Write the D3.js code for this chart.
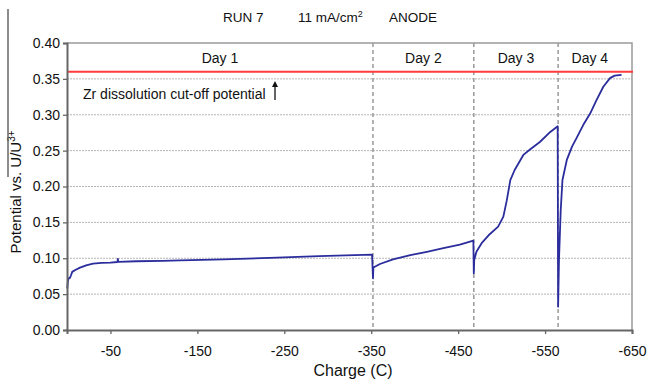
<!DOCTYPE html>
<html>
<head>
<meta charset="utf-8">
<script src="https://cdn.jsdelivr.net/npm/d3@7"></script>
<style>
  body { margin: 0; background: #fff; }
  svg { font-family: "Liberation Sans", Arial, sans-serif; }
</style>
</head>
<body>
<svg id="chart" width="649" height="382"></svg>
<script>
(function() {

  // data: charge (C) vs potential (V vs U/U3+)
  let run7 = [
    [-0.3, 0.058], [-1, 0.068], [-2, 0.072], [-3.5, 0.073], [-4.5, 0.076], [-6, 0.081],
    [-10, 0.084], [-15, 0.087], [-22, 0.090], [-30, 0.0925], [-40, 0.0935], [-50, 0.094],
    [-58, 0.0948], [-58.5, 0.099], [-59, 0.095], [-80, 0.0958], [-110, 0.0963], [-130, 0.097],
    [-180, 0.0985], [-233, 0.1005], [-290, 0.103], [-351, 0.105],
    [-352, 0.072], [-352.5, 0.087], [-360, 0.092], [-375, 0.0985], [-395, 0.1045],
    [-414, 0.109], [-433, 0.114], [-452, 0.119], [-467.5, 0.1245],
    [-468, 0.079], [-468.5, 0.0976], [-471, 0.109], [-477, 0.121], [-485, 0.132],
    [-496, 0.144], [-502, 0.158], [-506, 0.181], [-510, 0.209], [-515, 0.223],
    [-525, 0.244], [-533, 0.252], [-544, 0.262], [-556, 0.276], [-564.5, 0.284],
    [-565, 0.0325], [-566, 0.0976], [-568, 0.167], [-570, 0.209], [-575, 0.237],
    [-581, 0.2555], [-586, 0.267], [-594, 0.286], [-602, 0.302], [-609, 0.32],
    [-617, 0.339], [-624.7, 0.351], [-630, 0.3545], [-638, 0.3555]
  ];
  let dayNames = ["Day 1", "Day 2", "Day 3", "Day 4"];
  let dayBounds = [0, -352, -468, -565, -638];
  let cutoff = 0.36;
  let xTicks = [-50, -150, -250, -350, -450, -550, -650];
  let yTicks = [0, 0.05, 0.10, 0.15, 0.20, 0.25, 0.30, 0.35, 0.40];

  let svg = d3.select("#chart");
  let left = 67, right = 632, top = 43, bottom = 330;

  let xScale = d3.scaleLinear().domain([0, -650]).range([left, right]);
  let yScale = d3.scaleLinear().domain([0, 0.4]).range([bottom, top]);

  // title
  let title = svg.append("text")
     .attr("y", 22)
     .attr("font-size", "13.5px")
     .attr("fill", "#111");
  title.append("tspan").attr("x", 223).text("RUN 7");
  title.append("tspan").attr("x", 298).text("11 mA/cm");
  title.append("tspan").attr("font-size", "9px").attr("dy", -5).text("2");
  title.append("tspan").attr("x", 389).attr("dy", 5).text("ANODE");

  // horizontal dotted grid
  svg.append("g")
     .selectAll("line")
     .data(yTicks.filter(d => d > 0 && d < 0.4))
     .enter()
     .append("line")
     .attr("x1", left).attr("x2", right)
     .attr("y1", d => yScale(d)).attr("y2", d => yScale(d))
     .attr("stroke", "#b5b5b5")
     .attr("stroke-width", 1)
     .style("stroke-dasharray", "2, 1");

  // frame top/right
  svg.append("path")
     .attr("d", "M" + left + "," + top + "H" + right + "V" + bottom)
     .attr("fill", "none")
     .attr("stroke", "#9a9a9a")
     .attr("stroke-width", 1.5);

  // day separators
  svg.append("g")
     .selectAll("line")
     .data(dayBounds.slice(1, 4))
     .enter()
     .append("line")
     .attr("x1", d => xScale(d)).attr("x2", d => xScale(d))
     .attr("y1", top).attr("y2", bottom)
     .attr("stroke", "#9a9a9a")
     .attr("stroke-width", 1.5)
     .style("stroke-dasharray", "4, 3");

  // day labels
  svg.append("g")
     .selectAll("text")
     .data(dayNames)
     .enter()
     .append("text")
     .attr("x", (d, i) => xScale((dayBounds[i] + dayBounds[i + 1]) / 2))
     .attr("y", 63)
     .attr("text-anchor", "middle")
     .attr("font-size", "14px")
     .attr("fill", "#111")
     .text(d => d);

  // cut-off potential
  svg.append("line")
     .attr("x1", left).attr("x2", right + 1)
     .attr("y1", yScale(cutoff)).attr("y2", yScale(cutoff))
     .attr("stroke", "#ff3b3b")
     .attr("stroke-width", 2);

  svg.append("text")
     .attr("x", 83)
     .attr("y", 99)
     .attr("font-size", "14px")
     .attr("fill", "#111")
     .text("Zr dissolution cut-off potential");
  svg.append("line")
     .attr("x1", 275).attr("x2", 275)
     .attr("y1", 100).attr("y2", 85)
     .attr("stroke", "#111")
     .attr("stroke-width", 1.3);
  svg.append("path")
     .attr("d", "M272,87L275,81L278,87Z")
     .attr("fill", "#111");

  // curve
  let line = d3.line()
               .x(d => xScale(d[0]))
               .y(d => yScale(d[1]));
  svg.append("path")
     .datum(run7)
     .attr("fill", "none")
     .attr("stroke", "#2b2d9c")
     .attr("stroke-width", 1.8)
     .attr("stroke-linejoin", "round")
     .attr("d", line);

  // axes
  let xAxis = d3.axisBottom(xScale)
                .tickValues(xTicks)
                .tickSize(4)
                .tickFormat(d => String(d));
  let yAxis = d3.axisLeft(yScale)
                .tickValues(yTicks)
                .tickSize(4)
                .tickFormat(d3.format(".2f"));

  let gx = svg.append("g")
     .attr("transform", "translate(0," + bottom + ")")
     .call(xAxis);
  let gy = svg.append("g")
     .attr("transform", "translate(" + left + ",0)")
     .call(yAxis);

  [gx, gy].forEach(g => {
    g.select(".domain").attr("stroke", "#666").attr("stroke-width", 2);
    g.selectAll(".tick line").attr("stroke", "#666").attr("stroke-width", 1.3);
    g.selectAll(".tick text")
     .attr("font-family", "Liberation Sans, Arial, sans-serif")
     .attr("font-size", "14px")
     .attr("fill", "#111");
  });
  gx.selectAll(".tick text").attr("dy", "1.35em");
  gy.selectAll(".tick text").attr("x", -7);

  // axis titles
  svg.append("text")
     .attr("x", 353)
     .attr("y", 376)
     .attr("text-anchor", "middle")
     .attr("font-size", "16px")
     .attr("fill", "#111")
     .text("Charge (C)");

  let ylab = svg.append("text")
     .attr("transform", "translate(21,192) rotate(-90)")
     .attr("text-anchor", "middle")
     .attr("font-size", "15px")
     .attr("fill", "#111");
  ylab.append("tspan").text("Potential vs. U/U");
  ylab.append("tspan").attr("font-size", "10px").attr("dy", -6).text("3+");

  // stray rule left of the axis title
  svg.append("line")
     .attr("x1", 8).attr("x2", 8)
     .attr("y1", 9).attr("y2", 177)
     .attr("stroke", "#666")
     .attr("stroke-width", 1.5);

})();
</script>
</body>
</html>
